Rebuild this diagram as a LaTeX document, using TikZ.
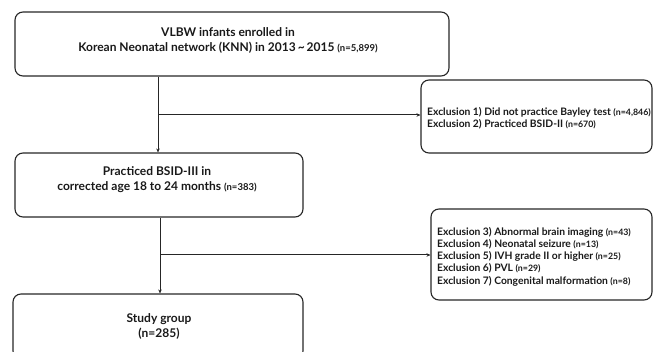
\documentclass[tikz,border=0pt]{standalone}
\usepackage{fontspec}
\setmainfont{Lato}
\usetikzlibrary{arrows.meta}
\newcommand\ncount[1]{{\fontsize{9.5}{10}\selectfont #1}}
\newcommand\ncountsm[1]{{\fontsize{8.8}{9}\selectfont #1}}
\begin{document}
\begin{tikzpicture}[x=1pt,y=-1pt,
  box/.style={draw=black!85, line width=1.1pt, rounded corners=8pt, inner sep=0pt},
  bigtxt/.style={font=\fontsize{12}{14.5}\selectfont\bfseries, align=center, inner sep=0pt, text=black!90},
  exctxt/.style={font=\fontsize{10.3}{12.3}\selectfont\bfseries, align=left, inner sep=0pt, anchor=west, text=black!90},
  arr/.style={draw=black!85, line width=1pt, -{Stealth[length=4pt,width=3.5pt]}},
  ln/.style={draw=black!85, line width=1pt}]
\useasboundingbox (0,0) rectangle (654,352);
\clip (0,0) rectangle (654,352);
% boxes
\node[box, minimum width=434pt, minimum height=64pt] (b1) at (232,44) {};
\node[box, minimum width=231pt, minimum height=73pt] (b2) at (536.5,116.5) {};
\node[box, minimum width=288pt, minimum height=64pt] (b3) at (159,185) {};
\node[box, minimum width=221pt, minimum height=91pt] (b4) at (541.5,254.5) {};
\node[box, minimum width=290pt, minimum height=65pt] (b5) at (158,326.5) {};
% texts
\node[bigtxt] (t1) at (228,40.5) {VLBW infants enrolled in\\Korean Neonatal network (KNN) in 2013\,\textasciitilde\,2015 \ncount{(n=5,899)}};
\node[bigtxt] (t3) at (157,179.5) {Practiced BSID-III in\\corrected age 18 to 24 months \ncount{(n=383)}};
\node[bigtxt] (t5) at (159,326.5) {Study group\\(n=285)};
\node[exctxt] (t2) at (427,118.5) {Exclusion 1) Did not practice Bayley test \ncountsm{(n=4,846)}\\Exclusion 2) Practiced BSID-II \ncountsm{(n=670)}};
\node[exctxt] (t4) at (437,256.5) {Exclusion 3) Abnormal brain imaging \ncountsm{(n=43)}\\Exclusion 4) Neonatal seizure \ncountsm{(n=13)}\\Exclusion 5) IVH grade II or higher \ncountsm{(n=25)}\\Exclusion 6) PVL \ncountsm{(n=29)}\\Exclusion 7) Congenital malformation \ncountsm{(n=8)}};
% connectors
\coordinate (j1) at (158,115);
\coordinate (j2) at (160,255);
\draw[ln] (j1 |- b1.south) -- (j1);
\draw[arr] (j1) -- (j1 |- b3.north);
\draw[arr] (j1) -- (j1 -| b2.west);
\draw[ln] (j2 |- b3.south) -- (j2);
\draw[arr] (j2) -- (j2 |- b5.north);
\draw[arr] (j2) -- (j2 -| b4.west);
\end{tikzpicture}
\end{document}
